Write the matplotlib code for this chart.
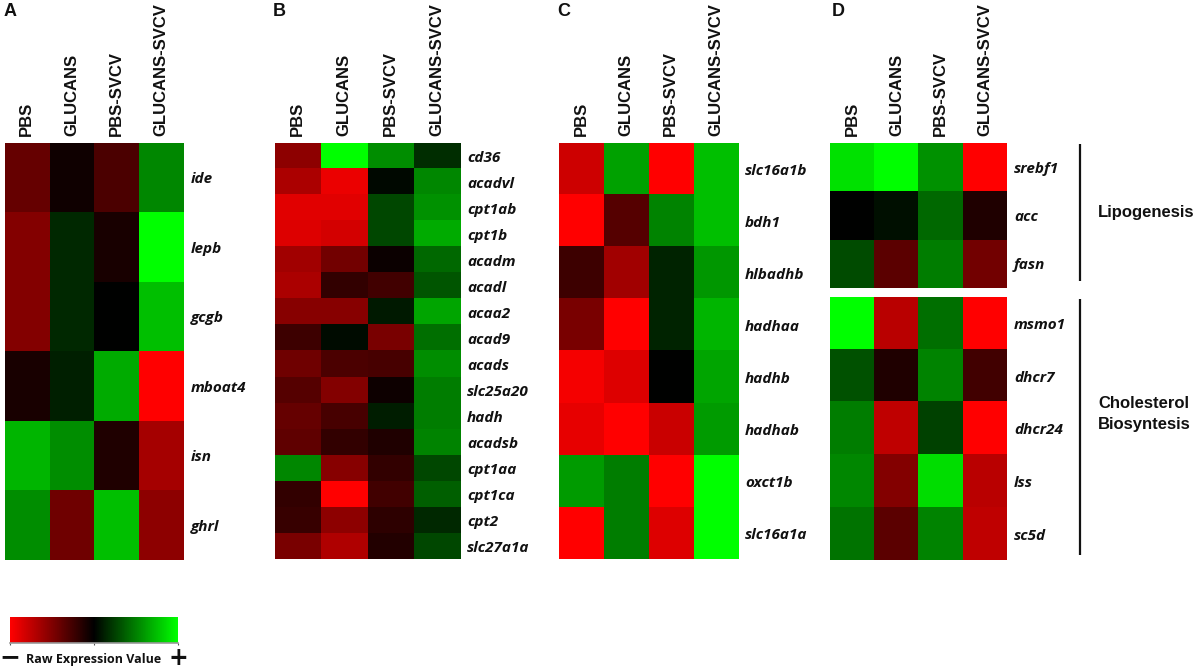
import numpy as np
import matplotlib
matplotlib.use('Agg')
import matplotlib.pyplot as plt
from matplotlib.colors import LinearSegmentedColormap, Normalize
from matplotlib.cm import ScalarMappable

W, H = 1199, 670

conditions = ['PBS', 'GLUCANS', 'PBS-SVCV', 'GLUCANS-SVCV']

# expression values, negative = red, positive = green
genes_a = ['ide', 'lepb', 'gcgb', 'mboat4', 'isn', 'ghrl']
values_a = [[-100, -15, -75, 135],
            [-130, 40, -25, 255],
            [-130, 40, 0, 190],
            [-25, 30, 170, -255],
            [180, 140, -30, -165],
            [140, -110, 190, -140]]

genes_b = ['cd36', 'acadvl', 'cpt1ab', 'cpt1b', 'acadm', 'acadl', 'acaa2', 'acad9',
           'acads', 'slc25a20', 'hadh', 'acadsb', 'cpt1aa', 'cpt1ca', 'cpt2', 'slc27a1a']
values_b = [[-140, 255, 140, 45],
            [-170, -235, 8, 135],
            [-225, -225, 70, 145],
            [-220, -210, 70, 170],
            [-160, -115, -10, 105],
            [-170, -50, -65, 85],
            [-135, -135, 25, 165],
            [-60, 10, -120, 110],
            [-110, -75, -70, 140],
            [-85, -130, -12, 125],
            [-100, -70, 28, 125],
            [-95, -50, -30, 130],
            [135, -135, -50, 70],
            [-50, -255, -65, 95],
            [-55, -140, -45, 40],
            [-120, -175, -35, 70]]

genes_c = ['slc16a1b', 'bdh1', 'hlbadhb', 'hadhaa', 'hadhb', 'hadhab', 'oxct1b', 'slc16a1a']
values_c = [[-205, 160, -255, 190],
            [-255, -85, 130, 190],
            [-60, -160, 35, 150],
            [-120, -255, 35, 180],
            [-245, -220, 0, 165],
            [-230, -255, -200, 155],
            [155, 125, -255, 255],
            [-255, 125, -220, 255]]

genes_d1 = ['srebf1', 'acc', 'fasn']
values_d1 = [[225, 255, 145, -255],
             [0, 15, 105, -30],
             [75, -90, 125, -115]]

genes_d2 = ['msmo1', 'dhcr7', 'dhcr24', 'lss', 'sc5d']
values_d2 = [[255, -185, 110, -255],
             [80, -30, 130, -65],
             [125, -190, 65, -255],
             [135, -130, 220, -185],
             [115, -90, 130, -190]]

GENE_FONT = 'Open Sans'
HEAD_FONT = 'Liberation Sans'

cmap = LinearSegmentedColormap.from_list('rkg', ['#ff0000', '#000000', '#00ff00'])
norm = Normalize(-255, 255)

fig = plt.figure(figsize=(W / 100, H / 100), dpi=100)


def px_axes(x0, y0, x1, y1):
    # axes from image pixel box (y counted from the top)
    return fig.add_axes([x0 / W, 1 - y1 / H, (x1 - x0) / W, (y1 - y0) / H])


def heatmap(box, values, genes, show_cols=True):
    ax = px_axes(*box)
    ax.imshow(np.array(values), cmap=cmap, norm=norm, aspect='auto', interpolation='nearest')
    ax.yaxis.tick_right()
    ax.set_yticks(range(len(genes)))
    ax.set_yticklabels(genes, fontfamily=GENE_FONT, fontstyle='italic', fontweight='bold',
                       fontsize=11, color='#111111')
    ax.tick_params(axis='y', length=0, pad=5)
    if show_cols:
        ax.xaxis.tick_top()
        ax.set_xticks(range(len(conditions)))
        ax.set_xticklabels(conditions, rotation=90, fontfamily=HEAD_FONT, fontweight='bold',
                           fontsize=12, color='#111111')
        ax.tick_params(axis='x', length=0, pad=5)
    else:
        ax.set_xticks([])
    for s in ax.spines.values():
        s.set_visible(False)
    return ax


heatmap((4.5, 143, 183.5, 560), values_a, genes_a)
heatmap((274.5, 143, 460, 559.5), values_b, genes_b)
heatmap((559, 143, 738, 559.5), values_c, genes_c)
heatmap((830, 143, 1007, 288), values_d1, genes_d1)
heatmap((830, 297, 1007, 560.5), values_d2, genes_d2, show_cols=False)

# colour key
cax = px_axes(10, 617, 178, 643)
cb = fig.colorbar(ScalarMappable(norm=norm, cmap=cmap), cax=cax, orientation='horizontal')
cb.outline.set_visible(False)
cb.set_ticks([-255, 0, 255])
cb.set_ticklabels([])
cax.tick_params(axis='x', length=1.5, width=0.8, color='#555555')
cax.spines['bottom'].set_visible(True)
cax.spines['bottom'].set_color('#999999')
cax.spines['bottom'].set_linewidth(1.2)

# everything else is placed in image pixels on a see-through overlay
over = fig.add_axes([0, 0, 1, 1], facecolor='none')
over.set_xlim(0, W)
over.set_ylim(H, 0)
over.axis('off')

for label, x in zip('ABCD', [4, 273, 557, 832]):
    over.text(x, 12, label, fontfamily=HEAD_FONT, fontweight='bold', fontsize=13,
              ha='left', va='center', color='#111111')

over.plot([1080, 1080], [144, 281], color='#111111', lw=1.6, solid_capstyle='butt')
over.plot([1080, 1080], [299, 555], color='#111111', lw=1.6, solid_capstyle='butt')
over.text(1098, 213, 'Lipogenesis', fontfamily=HEAD_FONT, fontweight='bold', fontsize=12,
          ha='left', va='center', color='#111111')
over.text(1098, 404, 'Cholesterol', fontfamily=HEAD_FONT, fontweight='bold', fontsize=12,
          ha='left', va='center', color='#111111')
over.text(1098, 425, 'Biosyntesis', fontfamily=HEAD_FONT, fontweight='bold', fontsize=12,
          ha='left', va='center', color='#111111')

over.text(93.5, 659, 'Raw Expression Value', fontfamily=GENE_FONT, fontweight='bold', fontsize=9,
          ha='center', va='center', color='#111111')
over.text(10, 657, '\u2212', fontfamily='DejaVu Sans', fontweight='bold', fontsize=18,
          ha='center', va='center', color='#111111')
over.text(178, 658, '+', fontfamily='DejaVu Sans', fontweight='bold', fontsize=17,
          ha='center', va='center', color='#111111')

plt.savefig('out.png', dpi=100)
plt.close()
